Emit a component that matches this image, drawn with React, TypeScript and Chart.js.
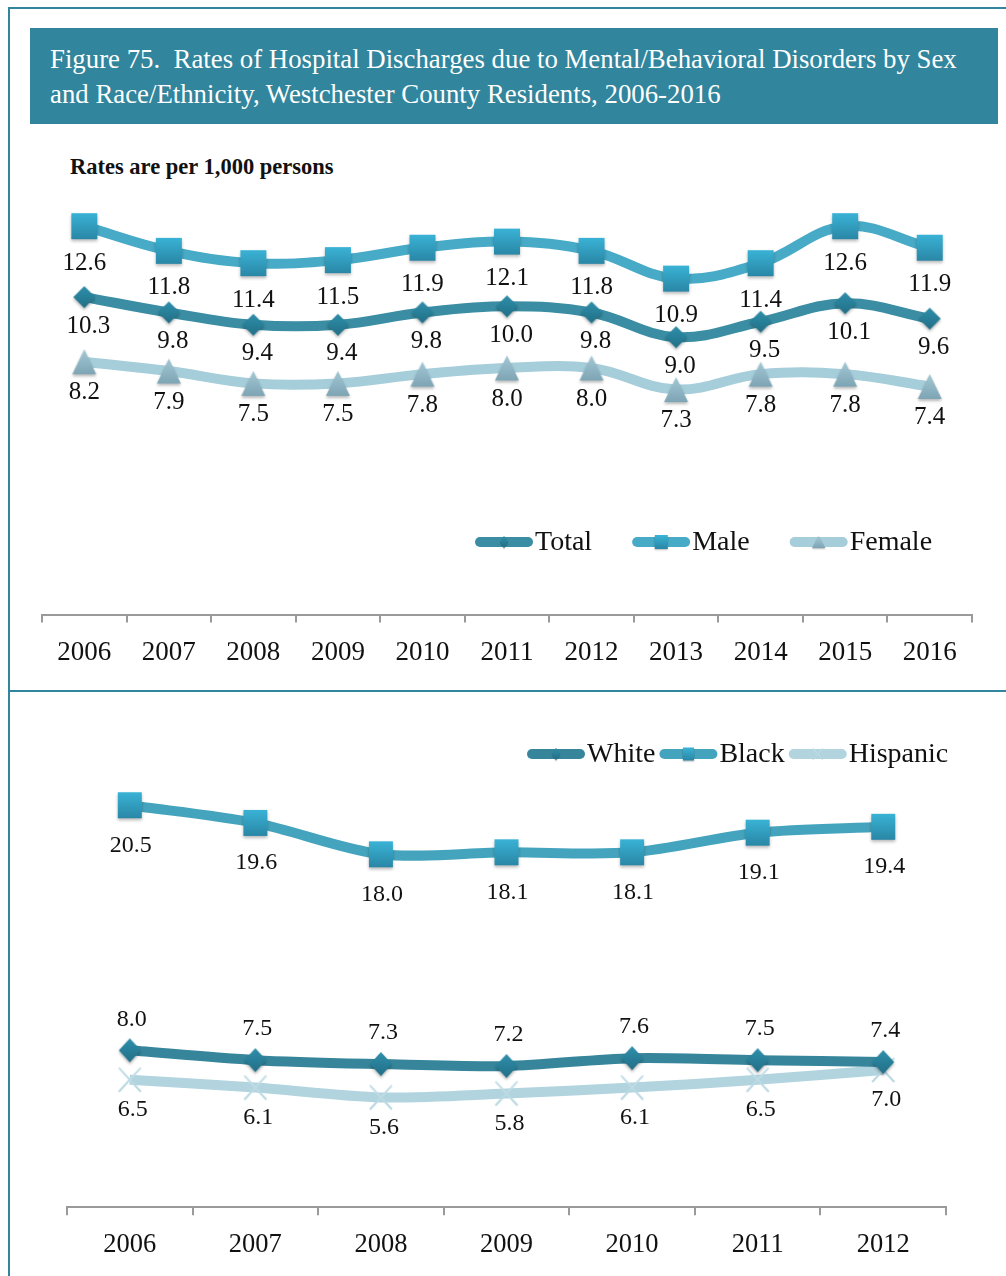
import React, { useEffect, useRef } from "react";
import { Chart, registerables } from "chart.js";

Chart.register(...registerables);

const YEARS_TOP = ["2006", "2007", "2008", "2009", "2010", "2011", "2012", "2013", "2014", "2015", "2016"];
const TOTAL = [10.3, 9.8, 9.4, 9.4, 9.8, 10.0, 9.8, 9.0, 9.5, 10.1, 9.6];
const MALE = [12.6, 11.8, 11.4, 11.5, 11.9, 12.1, 11.8, 10.9, 11.4, 12.6, 11.9];
const FEMALE = [8.2, 7.9, 7.5, 7.5, 7.8, 8.0, 8.0, 7.3, 7.8, 7.8, 7.4];

const YEARS_BOTTOM = ["2006", "2007", "2008", "2009", "2010", "2011", "2012"];
const WHITE = [8.0, 7.5, 7.3, 7.2, 7.6, 7.5, 7.4];
const BLACK = [20.5, 19.6, 18.0, 18.1, 18.1, 19.1, 19.4];
const HISPANIC = [6.5, 6.1, 5.6, 5.8, 6.1, 6.5, 7.0];

const SERIF = '"Liberation Serif", "Times New Roman", serif';
const TEAL = "#31859C";

type Shape = "square" | "diamond" | "triangle" | "cross";

function makeMarker(shape: Shape, w: number, h: number, top: string, bottom: string): HTMLCanvasElement {
  const pad = 5;
  const c = document.createElement("canvas");
  c.width = w + pad * 2;
  c.height = h + pad * 2;
  const ctx = c.getContext("2d")!;
  const x0 = pad, y0 = pad;
  ctx.save();
  if (shape !== "cross") {
    ctx.shadowColor = "rgba(0,0,0,0.28)";
    ctx.shadowBlur = 3;
    ctx.shadowOffsetY = 2;
  }
  const g = ctx.createLinearGradient(0, y0, 0, y0 + h);
  g.addColorStop(0, top);
  g.addColorStop(1, bottom);
  ctx.fillStyle = g;
  ctx.strokeStyle = g;
  ctx.beginPath();
  if (shape === "square") {
    ctx.rect(x0, y0, w, h);
    ctx.fill();
  } else if (shape === "diamond") {
    ctx.moveTo(x0 + w / 2, y0);
    ctx.lineTo(x0 + w, y0 + h / 2);
    ctx.lineTo(x0 + w / 2, y0 + h);
    ctx.lineTo(x0, y0 + h / 2);
    ctx.closePath();
    ctx.fill();
  } else if (shape === "triangle") {
    ctx.moveTo(x0 + w / 2, y0);
    ctx.lineTo(x0 + w, y0 + h);
    ctx.lineTo(x0, y0 + h);
    ctx.closePath();
    ctx.fill();
  } else {
    ctx.lineWidth = 2;
    ctx.moveTo(x0, y0);
    ctx.lineTo(x0 + w, y0 + h);
    ctx.moveTo(x0 + w, y0);
    ctx.lineTo(x0, y0 + h);
    ctx.stroke();
  }
  ctx.restore();
  return c;
}

const valueLabels = {
  id: "valueLabels",
  afterDatasetsDraw(chart: any, _a: any, opts: any) {
    const ctx = chart.ctx;
    chart.data.datasets.forEach((ds: any, i: number) => {
      const meta = chart.getDatasetMeta(i);
      ctx.save();
      ctx.font = `${opts.size}px ${SERIF}`;
      ctx.fillStyle = "#111";
      ctx.textAlign = "center";
      ctx.textBaseline = "middle";
      meta.data.forEach((pt: any, j: number) => {
        ctx.fillText(Number(ds.data[j]).toFixed(1), pt.x + (ds.labelDx || 0), pt.y + ds.labelDy);
      });
      ctx.restore();
    });
  },
};

const customLegend = {
  id: "customLegend",
  afterDraw(chart: any, _a: any, opts: any) {
    const ctx = chart.ctx;
    let x = opts.x;
    const y = opts.y;
    ctx.save();
    ctx.font = `${opts.size}px ${SERIF}`;
    ctx.textBaseline = "middle";
    ctx.textAlign = "left";
    chart.data.datasets.forEach((ds: any) => {
      const len = opts.sample;
      ctx.strokeStyle = ds.borderColor;
      ctx.lineWidth = 10;
      ctx.lineCap = "round";
      ctx.beginPath();
      ctx.moveTo(x + 5, y);
      ctx.lineTo(x + len - 5, y);
      ctx.stroke();
      const m = ds.legendMarker as HTMLCanvasElement;
      if (m) {
        const mw = ds.legendW, mh = ds.legendH;
        ctx.drawImage(m, x + len / 2 - mw / 2, y - mh / 2, mw, mh);
      }
      ctx.fillStyle = "#111";
      ctx.fillText(ds.label, x + len + 2, y + 1);
      x += len + 2 + ctx.measureText(ds.label).width + opts.gap;
    });
    ctx.restore();
  },
};

function baseOptions(max: number, pad: any, tickSize: number, tickPad: number, labelSize: number, legend: any) {
  return {
    animation: false as const,
    responsive: false,
    maintainAspectRatio: false,
    layout: { padding: pad },
    scales: {
      x: {
        offset: true,
        grid: { offset: true, drawOnChartArea: false, drawTicks: true, tickLength: 8, color: "#9a9a9a", lineWidth: 2 },
        border: { display: true, color: "#9a9a9a", width: 2 },
        ticks: { color: "#111", font: { family: SERIF, size: tickSize }, padding: tickPad, maxRotation: 0, autoSkip: false },
      },
      y: { display: false, min: 0, max },
    },
    plugins: {
      legend: { display: false },
      tooltip: { enabled: false },
      valueLabels: { size: labelSize },
      customLegend: legend,
    },
  };
}

function TopChart() {
  const ref = useRef<HTMLCanvasElement>(null);
  useEffect(() => {
    const diamond = makeMarker("diamond", 22, 22, "#2e8fab", "#226f86");
    const square = makeMarker("square", 26, 26, "#3ab3d6", "#2a87a6");
    const tri = makeMarker("triangle", 24, 25, "#a3c8d5", "#7ea5b5");
    const chart = new Chart(ref.current!, {
      type: "line",
      data: {
        labels: YEARS_TOP,
        datasets: [
          {
            label: "Total", data: TOTAL, borderColor: "#3a8da2", borderWidth: 10, tension: 0.38,
            pointStyle: diamond as any, clip: false as any, labelDy: 29, labelDx: 4, legendMarker: diamond, legendW: 12, legendH: 18,
          } as any,
          {
            label: "Male", data: MALE, borderColor: "#47aac6", borderWidth: 10, tension: 0.38,
            pointStyle: square as any, clip: false as any, labelDy: 37, labelDx: 0, legendMarker: square, legendW: 18, legendH: 19,
          } as any,
          {
            label: "Female", data: FEMALE, borderColor: "#a6cdda", borderWidth: 10, tension: 0.38,
            pointStyle: tri as any, clip: false as any, labelDy: 31, labelDx: 0, legendMarker: tri, legendW: 19, legendH: 17,
          } as any,
        ],
      },
      options: baseOptions(14, { left: 42, right: 34, top: 33, bottom: 7 }, 27, 14, 25, { x: 475, y: 392, size: 28, sample: 58, gap: 40 }) as any,
      plugins: [valueLabels, customLegend],
    });
    return () => chart.destroy();
  }, []);
  return <canvas ref={ref} width={1006} height={540} style={{ position: "absolute", left: 0, top: 150, width: 1006, height: 540 }} />;
}

function BottomChart() {
  const ref = useRef<HTMLCanvasElement>(null);
  useEffect(() => {
    const diamond = makeMarker("diamond", 22, 24, "#2e8fab", "#226f86");
    const square = makeMarker("square", 24, 26, "#3ab3d6", "#2a87a6");
    const cross = makeMarker("cross", 22, 24, "#c6e0e9", "#b5d5df");
    const chart = new Chart(ref.current!, {
      type: "line",
      data: {
        labels: YEARS_BOTTOM,
        datasets: [
          {
            label: "White", data: WHITE, borderColor: "#36859b", borderWidth: 10, tension: 0.3,
            pointStyle: diamond as any, clip: false as any, labelDy: -31, labelDx: 2, legendMarker: diamond, legendW: 12, legendH: 18,
          } as any,
          {
            label: "Black", data: BLACK, borderColor: "#45a4bd", borderWidth: 10, tension: 0.3,
            pointStyle: square as any, clip: false as any, labelDy: 40, labelDx: 1, legendMarker: square, legendW: 16, legendH: 18,
          } as any,
          {
            label: "Hispanic", data: HISPANIC, borderColor: "#b1d4df", borderWidth: 10, tension: 0.3,
            pointStyle: cross as any, clip: false as any, labelDy: 30, labelDx: 3, legendMarker: cross, legendW: 14, legendH: 16,
          } as any,
        ],
      },
      options: baseOptions(25, { left: 67, right: 60, top: 17, bottom: 1 }, 26.5, 14, 24, { x: 527, y: 54, size: 28, sample: 58, gap: 4 }) as any,
      plugins: [valueLabels, customLegend],
    });
    return () => chart.destroy();
  }, []);
  return <canvas ref={ref} width={1006} height={576} style={{ position: "absolute", left: 0, top: 700, width: 1006, height: 576 }} />;
}

export default function App() {
  return (
    <div style={{ position: "absolute", left: 0, top: 0, width: 1006, height: 1276, background: "#fff", overflow: "hidden" }}>
      <div style={{ position: "absolute", left: 8, top: 7, width: 998, height: 2, background: TEAL }} />
      <div style={{ position: "absolute", left: 8, top: 7, width: 2, height: 1269, background: TEAL }} />
      <div style={{ position: "absolute", left: 8, top: 690, width: 998, height: 2, background: TEAL }} />
      <div
        style={{
          position: "absolute", left: 30, top: 28, width: 968, height: 96, background: TEAL,
          color: "#fff", fontFamily: SERIF, fontSize: 26.8, lineHeight: "35px", boxSizing: "border-box",
          paddingLeft: 20, paddingTop: 14, whiteSpace: "nowrap",
        }}
      >
        Figure 75.&nbsp; Rates of Hospital Discharges due to Mental/Behavioral Disorders by Sex
        <br />
        and Race/Ethnicity, Westchester County Residents, 2006-2016
      </div>
      <div
        style={{
          position: "absolute", left: 70, top: 153, fontFamily: SERIF, fontSize: 22.5, fontWeight: "bold",
          lineHeight: "28px", color: "#111", whiteSpace: "nowrap",
        }}
      >
        Rates are per 1,000 persons
      </div>
      <TopChart />
      <BottomChart />
    </div>
  );
}
